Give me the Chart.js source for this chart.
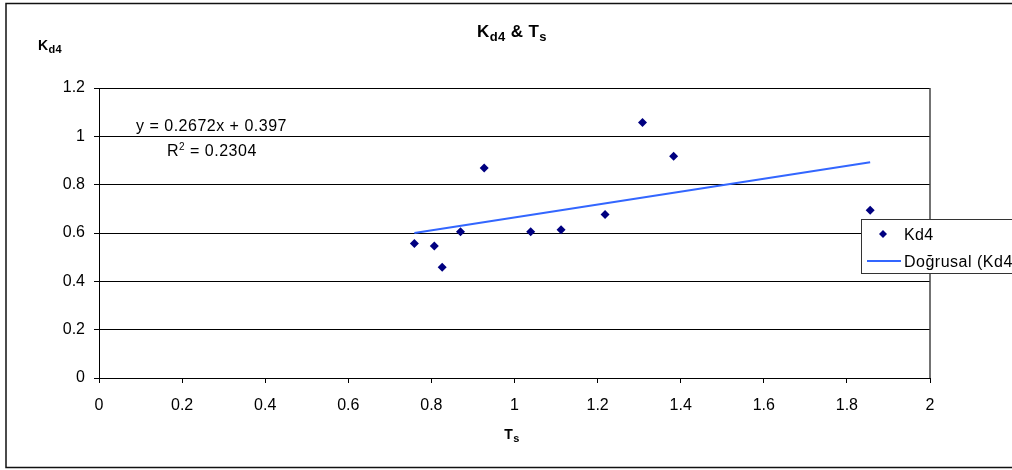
<!DOCTYPE html>
<html>
<head>
<meta charset="utf-8">
<script src="https://cdn.jsdelivr.net/npm/chart.js@4.4.0/dist/chart.umd.min.js"></script>
<style>
  html, body { margin: 0; padding: 0; background: #fff; }
  #wrap { position: relative; width: 1012px; height: 470px; overflow: hidden; }
  canvas { display: block; }
</style>
</head>
<body>
<div id="wrap"><canvas id="c" width="1012" height="470"></canvas></div>
<script>
// Data
const tsValues  = [0.759, 0.807, 0.826, 0.870, 0.927, 1.039, 1.112, 1.218, 1.308, 1.383, 1.856];
const kd4Values = [0.557, 0.546, 0.458, 0.605, 0.869, 0.605, 0.613, 0.677, 1.057, 0.918, 0.694];
const trendX = [0.759, 1.856];
const trendY = [0.600, 0.893];
const xTicks = [0, 0.2, 0.4, 0.6, 0.8, 1, 1.2, 1.4, 1.6, 1.8, 2];
const yTicks = [0, 0.2, 0.4, 0.6, 0.8, 1, 1.2];
const seriesLabel = 'Kd4';
const trendLabel = 'Doğrusal (Kd4)';
const equationText = 'y = 0.2672x + 0.397';
const r2Value = '0.2304';

const FONT = '"Liberation Sans", Arial, sans-serif';

function drawSub(ctx, parts, x, y, align, spacing) {
  ctx.letterSpacing = (spacing || 0) + 'px';
  let w = 0;
  parts.forEach(p => { ctx.font = (p.bold ? 'bold ' : '') + p.size + 'px ' + FONT; w += ctx.measureText(p.t).width; });
  let cx = align === 'center' ? x - w / 2 : x;
  parts.forEach(p => {
    ctx.font = (p.bold ? 'bold ' : '') + p.size + 'px ' + FONT;
    ctx.textAlign = 'left';
    ctx.textBaseline = 'alphabetic';
    ctx.fillText(p.t, cx, y + (p.dy || 0));
    cx += ctx.measureText(p.t).width;
  });
  ctx.letterSpacing = '0px';
}

const decor = {
  id: 'decor',
  afterDraw(chart) {
    const ctx = chart.ctx;
    ctx.save();
    ctx.fillStyle = '#000';
    // frame
    ctx.strokeStyle = '#111';
    ctx.lineWidth = 1.5;
    ctx.beginPath();
    ctx.moveTo(1020, 3.5); ctx.lineTo(6, 3.5); ctx.lineTo(6, 467.5); ctx.lineTo(1020, 467.5);
    ctx.stroke();
    // title
    drawSub(ctx, [
      {t: 'K', size: 17, bold: true},
      {t: 'd4', size: 13, bold: true, dy: 4},
      {t: ' & T', size: 17, bold: true},
      {t: 's', size: 13, bold: true, dy: 4}
    ], 512, 37, 'center', 0.4);
    // y title
    drawSub(ctx, [
      {t: 'K', size: 14, bold: true},
      {t: 'd4', size: 11, bold: true, dy: 3}
    ], 38, 50, 'left', 0.3);
    // x title
    drawSub(ctx, [
      {t: 'T', size: 14, bold: true},
      {t: 's', size: 11, bold: true, dy: 3}
    ], 512, 439, 'center', 0.3);
    // equation
    drawSub(ctx, [{t: equationText, size: 16}], 136, 131, 'left', 0.5);
    drawSub(ctx, [
      {t: 'R', size: 16},
      {t: '2', size: 10, dy: -6},
      {t: ' = ' + r2Value, size: 16}
    ], 167, 156, 'left', 0.5);
    // legend
    const lx = 861, ly = 219, lw = 160, lh = 54;
    ctx.fillStyle = '#fff';
    ctx.fillRect(lx, ly, lw, lh);
    ctx.strokeStyle = '#333';
    ctx.lineWidth = 1;
    ctx.strokeRect(lx + 0.5, ly + 0.5, lw, lh);
    ctx.fillStyle = '#000080';
    ctx.beginPath();
    const mx = 883, my = 234;
    ctx.moveTo(mx, my - 4); ctx.lineTo(mx + 4, my); ctx.lineTo(mx, my + 4); ctx.lineTo(mx - 4, my); ctx.closePath();
    ctx.fill();
    ctx.strokeStyle = '#3366ff';
    ctx.lineWidth = 2;
    ctx.beginPath(); ctx.moveTo(867, 261); ctx.lineTo(901, 261); ctx.stroke();
    ctx.fillStyle = '#000';
    drawSub(ctx, [{t: seriesLabel, size: 16}], 904, 240, 'left', 0.3);
    drawSub(ctx, [{t: trendLabel, size: 16}], 904, 267, 'left', 0.5);
    ctx.restore();
  }
};

new Chart(document.getElementById('c'), {
  type: 'scatter',
  data: {
    datasets: [
      {
        label: seriesLabel,
        data: tsValues.map((x, i) => ({x, y: kd4Values[i]})),
        pointStyle: 'rectRot',
        pointRadius: 4.5,
        pointHoverRadius: 4.5,
        backgroundColor: '#000080',
        borderColor: '#000080',
        borderWidth: 0,
        showLine: false,
        order: 1
      },
      {
        label: trendLabel,
        data: trendX.map((x, i) => ({x, y: trendY[i]})),
        showLine: true,
        borderColor: '#3366ff',
        borderWidth: 2,
        pointRadius: 0,
        fill: false,
        order: 2
      }
    ]
  },
  options: {
    responsive: false,
    animation: false,
    events: [],
    layout: { padding: { left: 0, right: 82, top: 88, bottom: 0 } },
    plugins: { legend: { display: false }, title: { display: false }, tooltip: { enabled: false } },
    scales: {
      x: {
        type: 'linear', min: 0, max: 2,
        afterBuildTicks: s => { s.ticks = xTicks.map(v => ({value: v})); },
        afterFit: s => { s.height = 92; },
        ticks: { color: '#000', font: { family: FONT, size: 16 }, padding: 13, maxRotation: 0,
                 callback: v => String(v) },
        grid: { display: true, drawOnChartArea: false, drawTicks: true, tickLength: 5, color: '#000' },
        border: { color: '#000', width: 1 }
      },
      y: {
        type: 'linear', min: 0, max: 1.2,
        afterBuildTicks: s => { s.ticks = yTicks.map(v => ({value: v})); },
        afterFit: s => { s.width = 99; },
        ticks: { color: '#000', font: { family: FONT, size: 16 }, padding: 9,
                 callback: v => String(v) },
        grid: { color: '#000', lineWidth: 1, tickLength: 5, drawTicks: true },
        border: { color: '#000', width: 1 }
      }
    }
  },
  plugins: [{
    id: 'rightBorder',
    beforeDatasetsDraw(chart) {
      const {ctx, chartArea: ca} = chart;
      ctx.save();
      ctx.strokeStyle = '#444';
      ctx.lineWidth = 1.5;
      ctx.beginPath();
      ctx.moveTo(ca.right, ca.top); ctx.lineTo(ca.right, ca.bottom);
      ctx.stroke();
      ctx.restore();
    }
  }, decor]
});
</script>
</body>
</html>
